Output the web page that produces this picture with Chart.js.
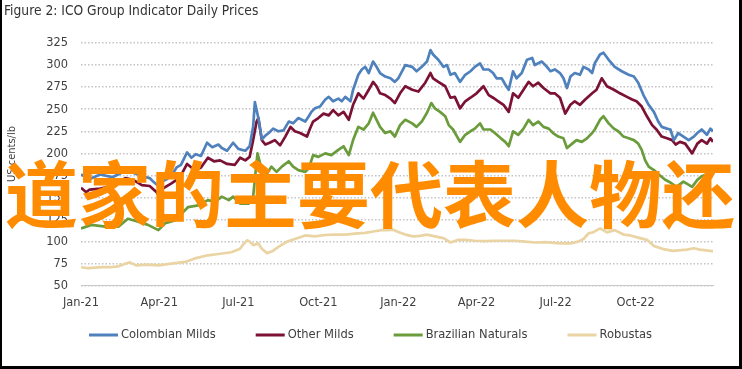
<!DOCTYPE html>
<html>
<head>
<meta charset="utf-8">
<script src="https://cdn.jsdelivr.net/npm/chart.js@4.4.1/dist/chart.umd.min.js"></script>
<style>
html,body{margin:0;padding:0;background:#fff;}
canvas{display:block;}
</style>
</head>
<body>
<canvas id="c" width="742" height="369"></canvas>
<script>
// ---- Data (x = days since 1 Jan 2021) ----
const chartTitle = 'Figure 2: ICO Group Indicator Daily Prices';
const yAxisTitle = 'US cents/lb';
const overlayText = '道家的主要代表人物还';
const tickDays = [0, 90, 181, 273, 365, 455, 546, 638];
const tickLabels = ['Jan-21', 'Apr-21', 'Jul-21', 'Oct-21', 'Jan-22', 'Apr-22', 'Jul-22', 'Oct-22'];
const seriesNames = ['Colombian Milds', 'Other Milds', 'Brazilian Naturals', 'Robustas'];

const colombianDays = [0,6,10,22,36,51,60,70,79,83,89,93,99,104,110,115,122,127,132,138,145,151,158,162,168,175,181,189,194,198,200,204,208,212,216,221,227,233,239,244,250,258,262,265,269,275,281,285,290,296,300,304,310,313,319,323,327,331,336,340,344,350,356,361,365,373,381,386,392,398,402,405,411,417,421,425,430,436,442,448,453,459,463,469,474,478,484,488,492,497,501,507,513,519,522,530,536,540,545,551,555,559,563,568,574,578,584,588,591,597,601,607,614,622,630,636,641,647,653,659,664,668,674,678,682,687,693,699,705,709,714,720,724,727];
const colombianValues = [176,173,171,176,173,180,178,174,172,168,163,168,171,175,184,187,201,195,199,197,212,207,210,206,203,212,205,203,208,230,258,240,216,220,223,228,225,226,236,234,240,236,242,247,251,253,261,264,259,262,259,264,259,272,289,295,298,291,304,298,291,287,285,281,285,300,298,293,298,304,317,312,306,298,300,289,291,281,289,293,298,302,295,295,291,285,285,278,272,293,285,291,306,308,300,304,298,293,295,291,285,274,287,291,289,298,295,291,302,312,314,306,298,293,289,287,280,266,255,247,236,230,228,227,215,223,219,215,219,223,227,221,228,225];

const otherDays = [0,6,10,22,36,51,60,70,79,87,89,94,104,110,115,122,127,132,138,146,153,160,168,177,183,189,194,198,202,204,208,212,217,223,229,235,241,246,252,260,263,267,273,279,285,290,296,302,308,313,319,325,331,336,340,344,350,356,361,367,373,381,388,396,402,405,411,419,425,430,436,442,448,455,463,469,474,480,486,492,497,503,509,515,520,526,532,540,545,551,557,563,568,574,580,588,593,599,605,613,620,628,634,639,645,651,657,662,668,674,680,684,689,695,703,709,714,720,724,727];
const otherValues = [161,156,159,160,163,172,170,164,163,156,153,160,166,170,175,188,184,181,184,195,191,192,188,187,195,192,196,215,236,240,215,210,212,215,209,219,230,225,223,219,227,236,240,245,243,249,243,247,238,255,268,262,272,281,276,268,266,262,257,268,276,272,270,280,291,285,281,276,263,264,251,259,263,268,276,266,263,259,255,247,268,263,272,281,276,280,274,268,268,263,245,255,259,255,261,268,272,285,276,272,268,264,261,259,253,242,232,227,219,217,215,210,213,211,200,211,215,211,217,213];

const brazilianDays = [0,12,28,43,54,64,77,89,97,108,116,123,135,146,154,162,170,175,183,193,198,203,208,214,219,225,231,239,244,250,258,262,267,273,281,288,296,302,308,313,319,325,331,336,340,344,350,356,361,367,373,381,386,392,398,403,407,413,419,423,428,436,442,448,453,459,463,471,476,483,488,492,497,503,509,515,520,526,532,538,543,549,555,559,565,570,576,582,588,591,597,601,607,613,618,624,630,636,641,645,649,653,659,666,672,678,685,693,703,709,714,722,727];
const brazilianValues = [115,119,117,117,126,123,119,113,121,124,132,139,141,147,145,151,147,151,143,143,151,200,181,177,185,179,185,191,185,181,179,183,198,196,200,198,204,208,198,215,230,227,234,246,238,230,223,225,219,232,238,234,230,236,246,257,251,247,242,232,227,213,221,225,228,234,227,227,223,217,213,208,225,221,228,238,232,236,230,228,223,219,217,206,211,215,213,217,223,227,238,242,234,228,225,219,217,215,211,204,192,185,181,175,170,167,162,168,162,170,174,177,174];

const robustasDays = [0,8,16,24,33,43,51,56,64,76,89,104,120,131,146,158,173,183,186,191,194,198,204,208,214,220,227,237,246,258,269,281,290,304,315,327,336,346,353,359,365,373,382,390,398,407,417,425,434,442,453,465,476,488,499,511,522,534,551,563,572,578,584,589,597,605,614,624,632,643,651,659,670,681,697,705,712,724,727];
const robustasValues = [71,70,70.5,71,71,72,75,76.5,73,74,73,75,77,81,84.5,86,88,92,96,101.5,100,96,98,92,87,89,94,100,103,107,106,107.5,108,108,109,110,111.5,113,113,113.5,111,108,106,106.5,108,106,104,99,102,102,101,100.5,101,101,101,100,99,99.5,98,98,100,103,109.5,110.5,115,110.5,113,108,107,104,102,95,91.5,89.5,91,92.5,91,89.5,89];

const seriesColors = ['#4f81bd', '#7b1234', '#6b9c3c', '#ead4a4'];

// ---- Build ----
function pts(days, vals) {
  const n = Math.min(days.length, vals.length);
  const out = [];
  for (let i = 0; i < n; i++) out.push({x: days[i], y: vals[i]});
  return out;
}
const FONT = '"DejaVu Sans Condensed","DejaVu Sans","Liberation Sans",sans-serif';
const TXT = '#404040';

const allSeries = [
  pts(colombianDays, colombianValues),
  pts(otherDays, otherValues),
  pts(brazilianDays, brazilianValues),
  pts(robustasDays, robustasValues)
];

const overlay = {
  id: 'overlay',
  afterDraw(chart) {
    const ctx = chart.ctx;
    ctx.save();
    // title
    ctx.fillStyle = '#333';
    ctx.font = '13.7px ' + FONT;
    ctx.textAlign = 'left';
    ctx.textBaseline = 'alphabetic';
    ctx.fillText(chartTitle, 4, 15);
    // y-axis title
    ctx.save();
    ctx.translate(15, 154);
    ctx.rotate(-Math.PI / 2);
    ctx.textAlign = 'center';
    ctx.font = '11px ' + FONT;
    ctx.fillStyle = TXT;
    ctx.fillText(yAxisTitle, 0, 0);
    ctx.restore();
    // legend
    ctx.font = '12.8px ' + FONT;
    ctx.textBaseline = 'middle';
    const lineW = 29, gap = 3, itemGap = 40, ly = 335;
    const ds = chart.data.datasets;
    const widths = ds.map(d => lineW + gap + ctx.measureText(d.label).width);
    const total = widths.reduce((a, b) => a + b, 0) + itemGap * (ds.length - 1);
    let x = Math.round(371 - total / 2);
    ds.forEach((d, i) => {
      ctx.fillStyle = d.borderColor;
      ctx.fillRect(x, ly - 1.5, lineW, 3);
      ctx.fillStyle = TXT;
      ctx.fillText(d.label, x + lineW + gap, ly);
      x += widths[i] + itemGap;
    });
    // overlay text
    ctx.font = 'bold 73px "Noto Sans CJK SC"';
    ctx.fillStyle = '#ff8c00';
    ctx.textAlign = 'left';
    ctx.textBaseline = 'alphabetic';
    ctx.fillText(overlayText, 5, 222);
    // frame
    ctx.fillStyle = '#000';
    ctx.fillRect(0, 0, 2, 369);
    ctx.fillRect(739, 0, 3, 369);
    ctx.fillRect(0, 366, 742, 3);
    ctx.restore();
  }
};

new Chart(document.getElementById('c'), {
  type: 'line',
  data: {
    datasets: seriesNames.map((name, i) => ({
      label: name,
      data: allSeries[i],
      borderColor: seriesColors[i],
      backgroundColor: seriesColors[i],
      borderWidth: 2.7,
      borderJoinStyle: 'round',
      pointRadius: 0,
      pointHoverRadius: 0,
      pointStyle: false,
      tension: 0,
      fill: false
    }))
  },
  options: {
    responsive: false,
    animation: false,
    devicePixelRatio: 1,
    elements: {point: {radius: 0, hoverRadius: 0}},
    layout: {padding: {left: 2, right: 29, top: 43, bottom: 50}},
    plugins: {legend: {display: false}, tooltip: {enabled: false}, title: {display: false}},
    scales: {
      x: {
        type: 'linear',
        min: 0,
        max: 727,
        afterBuildTicks: (s) => { s.ticks = tickDays.map(v => ({value: v})); },
        ticks: {
          autoSkip: false,
          maxRotation: 0,
          padding: 9,
          color: TXT,
          font: {family: FONT, size: 12.7},
          callback: (v, i) => tickLabels[i]
        },
        grid: {display: false, drawTicks: false},
        border: {display: true, color: '#c8c8c8', width: 1}
      },
      y: {
        min: 50,
        max: 325,
        afterFit: (s) => { s.width = 79; },
        ticks: {stepSize: 25, padding: 13, color: TXT, font: {family: FONT, size: 12.7}},
        grid: {color: '#c4c4c4', lineWidth: 1.5, drawTicks: false},
        border: {display: false, dash: [1.5, 2]}
      }
    }
  },
  plugins: [overlay]
});
</script>
</body>
</html>
